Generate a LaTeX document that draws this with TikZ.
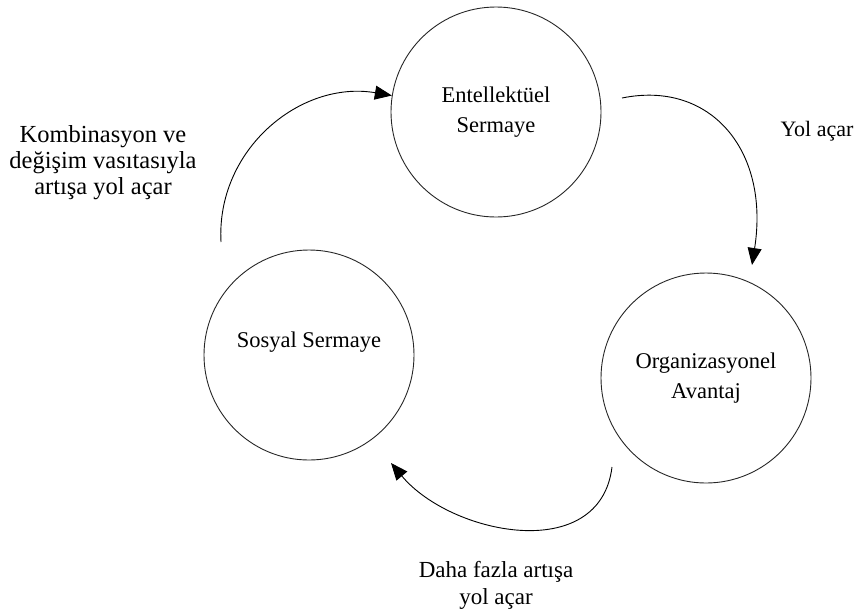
\documentclass[tikz,border=0pt]{standalone}
\usepackage{fontspec}
\setmainfont{Liberation Serif}
\usetikzlibrary{arrows.meta, positioning}
\tikzset{
	capital/.style={
		circle,
		minimum size=210pt,
		inner sep=0pt,
		align=center,
		draw=black!85,
		line width=0.9pt,
		font=\fontsize{22.5}{30}\selectfont
	},
	note/.style={
		align=center,
		font=\fontsize{23}{27}\selectfont
	},
	arrow/.style={line width=0.9pt,-{Triangle[length=17pt,width=14pt]}}
}

\begin{document}
\begin{tikzpicture}[x=1pt,y=-1pt]
				\useasboundingbox (0,0) rectangle (862,611);
				\node (intel) [capital] at (496,112) {Entellektüel\\Sermaye};
				\node (social) [capital, text depth=30pt] at (309,355) {Sosyal Sermaye};
				\node (org) [capital] at (706,378) {Organizasyonel\\Avantaj};
				
				\node (comb) [note, font=\fontsize{24.5}{26}\selectfont] at (103,163) {Kombinasyon ve\\değişim vasıtasıyla\\artışa yol açar};
				\node (leads) [note, font=\fontsize{22}{26}\selectfont] at (817,131) {Yol açar};
				\node (more) [note] at (496,585) {Daha fazla artışa\\yol açar};
				
				% free ends of the curved arrows
				\coordinate (leftstart) at (221,242);
				\coordinate (rightstart) at (622,98);
				\coordinate (rightend) at (752,265);
				\coordinate (bottomstart) at (612,467);
				\coordinate (bottomend) at (391,463);
				
				\draw [arrow] (leftstart) .. controls (216,150) and (300,80) .. (intel.171);
				\draw [arrow] (rightstart) .. controls (710,80) and (770,150) .. (rightend);
				\draw [arrow] (bottomstart) .. controls (600,565) and (451,535) .. (bottomend);
			\end{tikzpicture}
\end{document}
